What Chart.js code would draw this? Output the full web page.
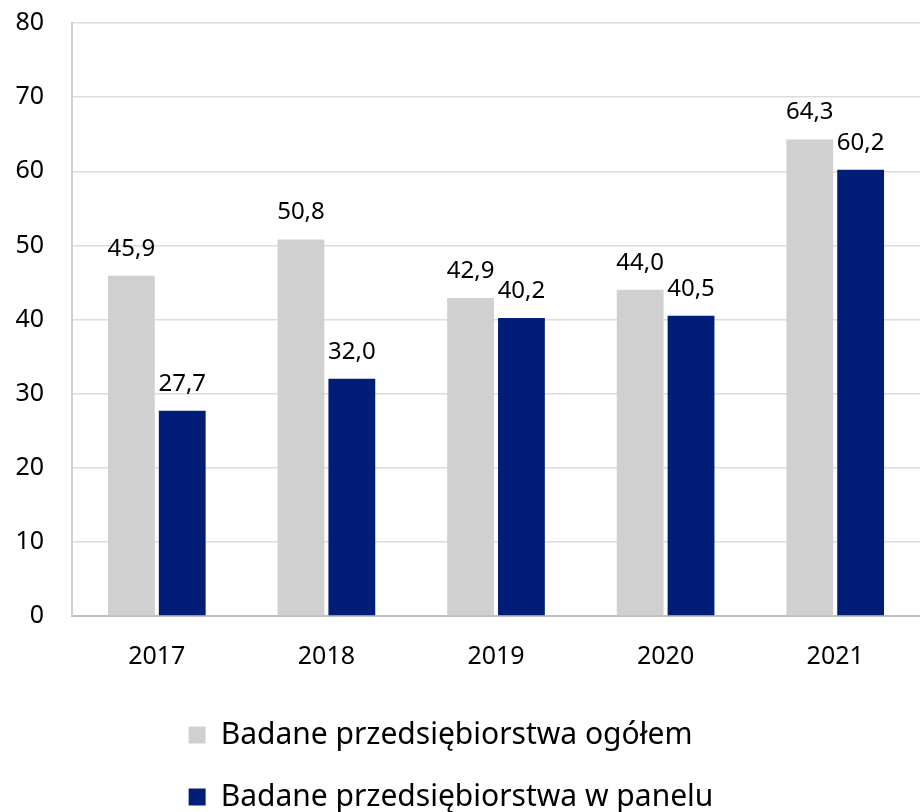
<!DOCTYPE html>
<html>
<head>
<meta charset="utf-8">
<script src="https://cdn.jsdelivr.net/npm/chart.js@4/dist/chart.umd.min.js"></script>
<style>
html,body{margin:0;padding:0;background:#fff;}
#wrap{width:920px;height:812px;position:relative;}
</style>
</head>
<body>
<div id="wrap"><canvas id="c"></canvas></div>
<script>
const categories = ['2017', '2018', '2019', '2020', '2021'];
const seriesNames = ['Badane przedsiębiorstwa ogółem', 'Badane przedsiębiorstwa w panelu'];
const ogolem = [45.9, 50.8, 42.9, 44.0, 64.3];
const panel = [27.7, 32.0, 40.2, 40.5, 60.2];
const yTicks = [0, 10, 20, 30, 40, 50, 60, 70, 80];

const FONT = 'Noto Sans';

const valueLabels = {
  id: 'valueLabels',
  afterDatasetsDraw(chart) {
    const ctx = chart.ctx;
    ctx.save();
    ctx.font = '24px "' + FONT + '"';
    ctx.fillStyle = '#000';
    ctx.textAlign = 'center';
    ctx.textBaseline = 'middle';
    chart.data.datasets.forEach((ds, di) => {
      const meta = chart.getDatasetMeta(di);
      meta.data.forEach((bar, i) => {
        const v = ds.data[i];
        ctx.fillText(v.toFixed(1).replace('.', ','), bar.x, bar.y - 27);
      });
    });
    ctx.restore();
  }
};

const legendAlign = {
  id: 'legendAlign',
  afterLayout(chart) {
    const lg = chart.legend;
    if (lg && lg.lineWidths) {
      const m = Math.max(...lg.lineWidths) + 18;
      lg.lineWidths = lg.lineWidths.map(() => m);
      lg.top += 10;
      lg.bottom += 10;
    }
  }
};

new Chart(document.getElementById('c'), {
  type: 'bar',
  data: {
    labels: categories,
    datasets: [
      { label: seriesNames[0], data: ogolem, backgroundColor: '#d0d0d0', borderWidth: 0 },
      { label: seriesNames[1], data: panel, backgroundColor: '#001e78', borderWidth: 0 }
    ]
  },
  options: {
    responsive: true,
    maintainAspectRatio: false,
    animation: false,
    layout: { padding: { top: 23, right: 0, left: 0, bottom: 0 } },
    categoryPercentage: 0.6,
    barPercentage: 0.92,
    scales: {
      x: {
        afterFit(scale) { scale.height -= 20; },
        grid: { display: false, drawTicks: false },
        border: { display: true, color: '#bfbfbf', width: 2 },
        ticks: { color: '#000', font: { family: FONT, size: 25 }, padding: 26 }
      },
      y: {
        min: 0, max: 80,
        afterBuildTicks(scale) { scale.ticks = yTicks.map(v => ({ value: v })); },
        afterFit(scale) { scale.width = 72; scale.paddingTop = 0; scale.paddingBottom = 0; },
        grid: { color: '#dcdcdc', lineWidth: 1.5, drawTicks: false },
        border: { display: true, color: '#cfcfcf', width: 2 },
        ticks: { color: '#000', font: { family: FONT, size: 25 }, padding: 28 }
      }
    },
    plugins: {
      tooltip: { enabled: false },
      legend: {
        position: 'bottom',
        labels: {
          color: '#000',
          font: { family: FONT, size: 30 },
          boxWidth: 17, boxHeight: 17,
          padding: 32
        }
      }
    }
  },
  plugins: [valueLabels, legendAlign]
});
</script>
</body>
</html>
